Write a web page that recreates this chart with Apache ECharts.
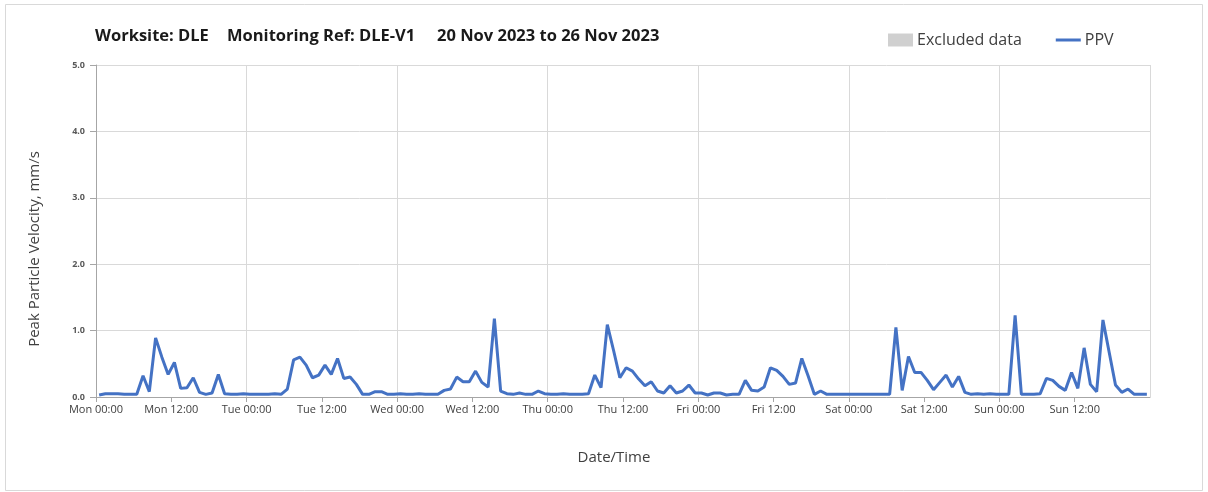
<!DOCTYPE html>
<html>
<head>
<meta charset="utf-8">
<script src="https://cdn.jsdelivr.net/npm/echarts@6/dist/echarts.min.js"></script>
<style>
  html, body { margin: 0; padding: 0; background: #fff; }
  #container { width: 1208px; height: 492px; }
</style>
</head>
<body>
<div id="container"></div>
<script>
// hourly PPV (mm/s), one array per day, readings at hh:30
const mon = [0.03, 0.05, 0.05, 0.05, 0.04, 0.04, 0.04, 0.32, 0.08, 0.89, 0.60, 0.34, 0.52, 0.13, 0.14, 0.29, 0.07, 0.04, 0.06, 0.34, 0.05, 0.04, 0.04, 0.05];
const tue = [0.04, 0.04, 0.04, 0.04, 0.05, 0.04, 0.12, 0.56, 0.60, 0.48, 0.29, 0.33, 0.48, 0.34, 0.58, 0.28, 0.30, 0.19, 0.04, 0.04, 0.08, 0.08, 0.04, 0.04];
const wed = [0.05, 0.04, 0.04, 0.05, 0.04, 0.04, 0.04, 0.10, 0.12, 0.30, 0.23, 0.23, 0.39, 0.22, 0.15, 1.18, 0.09, 0.05, 0.04, 0.06, 0.04, 0.04, 0.09, 0.05];
const thu = [0.04, 0.04, 0.05, 0.04, 0.04, 0.04, 0.05, 0.33, 0.14, 1.09, 0.70, 0.29, 0.44, 0.39, 0.27, 0.17, 0.23, 0.09, 0.06, 0.17, 0.06, 0.09, 0.18, 0.06];
const fri = [0.06, 0.03, 0.06, 0.06, 0.03, 0.04, 0.04, 0.25, 0.10, 0.09, 0.15, 0.44, 0.40, 0.31, 0.19, 0.21, 0.58, 0.32, 0.04, 0.09, 0.04, 0.04, 0.04, 0.04];
const sat = [0.04, 0.04, 0.04, 0.04, 0.04, 0.04, 0.04, 1.05, 0.10, 0.61, 0.37, 0.37, 0.25, 0.11, 0.22, 0.33, 0.15, 0.31, 0.07, 0.04, 0.05, 0.04, 0.05, 0.04];
const sun = [0.04, 0.04, 1.23, 0.04, 0.04, 0.04, 0.05, 0.28, 0.25, 0.16, 0.10, 0.37, 0.13, 0.74, 0.19, 0.08, 1.16, 0.67, 0.18, 0.07, 0.12, 0.04, 0.04, 0.04];

const tickLabels = ["Mon 00:00", "Mon 12:00", "Tue 00:00", "Tue 12:00", "Wed 00:00", "Wed 12:00",
  "Thu 00:00", "Thu 12:00", "Fri 00:00", "Fri 12:00", "Sat 00:00", "Sat 12:00", "Sun 00:00", "Sun 12:00"];

const ppv = [].concat(mon, tue, wed, thu, fri, sat, sun).map((v, i) => [i + 0.5, v]);

let dom = document.getElementById("container");
let myChart = echarts.init(dom, null, { renderer: "canvas" });

const textColor = "#404040";
const gridColor = "#d9d9d9";
const font = "'Open Sans', 'Noto Sans', sans-serif";

let option = {
  animation: false,
  backgroundColor: "#fff",
  textStyle: { fontFamily: font },
  graphic: [
    {
      type: "rect",
      shape: { x: 5.5, y: 4.5, width: 1197, height: 486 },
      style: { fill: "none", stroke: "#d9d9d9", lineWidth: 1 },
    },
  ],
  title: [
    { text: "Worksite: DLE", left: 95 },
    { text: "Monitoring Ref: DLE-V1", left: 227 },
    { text: "20 Nov 2023 to 26 Nov 2023", left: 437 },
  ].map((t) => ({
    ...t,
    top: 28,
    padding: 0,
    textStyle: { fontFamily: font, fontSize: 16.5, fontWeight: "bold", color: "#1a1a1a" },
  })),
  legend: {
    left: 888,
    top: 32,
    padding: 0,
    itemWidth: 25,
    itemHeight: 13,
    itemGap: 34,
    textStyle: { fontFamily: font, fontSize: 16, color: textColor, padding: [0, 0, 0, -1] },
    data: [
      { name: "Excluded data", icon: "rect" },
      { name: "PPV", icon: "path://M0,0L25,0L25,3L0,3Z" },
    ],
  },
  grid: { left: 96, right: 58, top: 65, bottom: 95 },
  xAxis: [
    {
      type: "value",
      min: 0,
      max: 168,
      interval: 12,
      name: "Date/Time",
      nameLocation: "middle",
      nameGap: 53,
      nameTextStyle: { fontFamily: font, fontSize: 15, color: textColor, padding: [0, 18, 0, 0] },
      axisLine: { lineStyle: { color: "#a6a6a6" } },
      axisTick: { length: 5, lineStyle: { color: "#a6a6a6" } },
      axisLabel: {
        fontSize: 11,
        color: textColor,
        margin: 7,
        showMaxLabel: false,
        formatter: (v) => tickLabels[v / 12] || "",
      },
      splitLine: { show: false },
    },
    {
      type: "value",
      min: 0,
      max: 168,
      interval: 24,
      position: "bottom",
      axisLine: { show: false },
      axisTick: { show: false },
      axisLabel: { show: false },
      splitLine: { show: true, lineStyle: { color: gridColor } },
    },
  ],
  yAxis: {
    type: "value",
    min: 0,
    max: 5,
    interval: 1,
    name: "Peak Particle Velocity, mm/s",
    nameLocation: "middle",
    nameGap: 54,
    nameTextStyle: { fontFamily: font, fontSize: 15, color: textColor, padding: [0, 36, 0, 0] },
    axisLine: { show: true, lineStyle: { color: "#a6a6a6" } },
    axisTick: { show: true, length: 6, lineStyle: { color: "#a6a6a6" } },
    axisLabel: {
      fontSize: 9,
      fontWeight: "bold",
      color: "#595959",
      margin: 11,
      formatter: (v) => v.toFixed(1),
    },
    splitLine: { lineStyle: { color: gridColor } },
  },
  series: [
    {
      name: "Excluded data",
      type: "bar",
      data: [],
      itemStyle: { color: "#d0d0d0" },
    },
    {
      name: "PPV",
      type: "line",
      xAxisIndex: 0,
      data: ppv,
      symbol: "none",
      smooth: false,
      lineStyle: { color: "#4472C4", width: 3 },
      itemStyle: { color: "#4472C4" },
    },
  ],
};

if (option && typeof option === "object") {
  myChart.setOption(option);
}

window.addEventListener("resize", myChart.resize);
</script>
</body>
</html>
